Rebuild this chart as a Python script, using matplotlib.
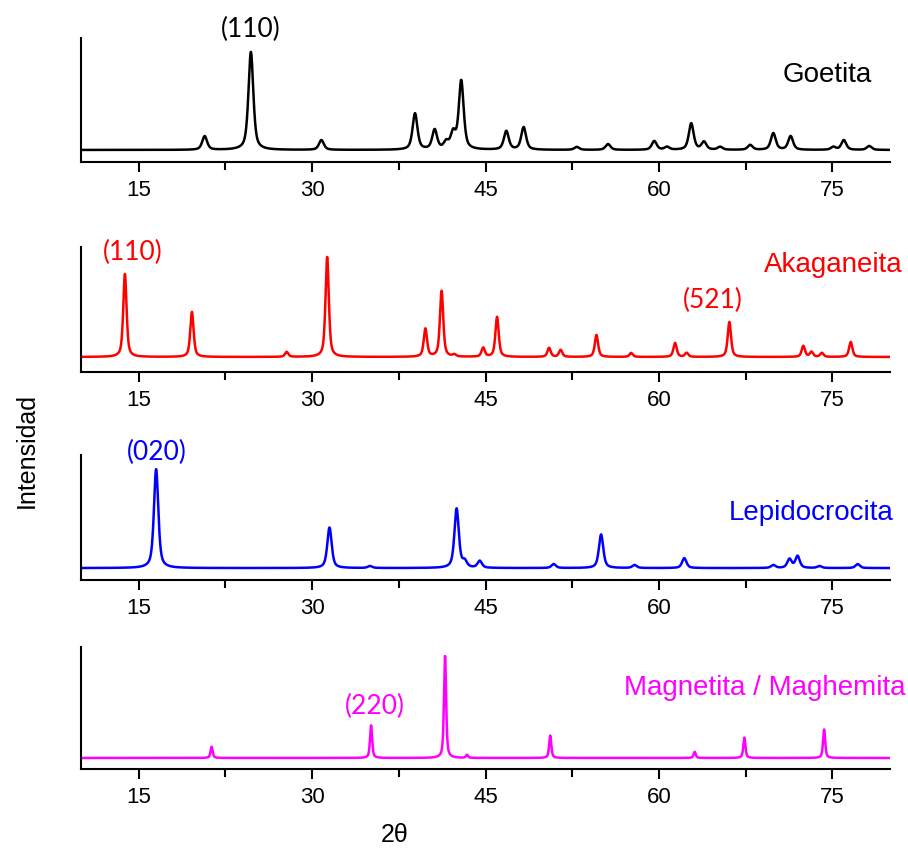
import numpy as np
import matplotlib
matplotlib.use('Agg')
import matplotlib.pyplot as plt
from matplotlib import ticker

plt.rcParams['font.family'] = ['Liberation Sans', 'DejaVu Sans']

# peak positions (2theta) and relative heights
goe_pos = [20.7, 24.7, 30.8, 38.9, 40.6, 41.6, 42.2, 42.9, 46.8, 48.3, 52.9, 55.6,
           59.6, 60.7, 62.8, 63.9, 65.3, 67.9, 69.9, 71.4, 75.1, 76.0, 78.2]
goe_int = [14, 100, 10, 37, 20, 7, 16, 70, 19, 23, 3, 6,
           9, 3, 27, 8, 3, 5, 17, 14, 3, 10, 4]

aka_pos = [13.8, 19.6, 27.8, 31.3, 39.8, 41.2, 42.3, 44.8, 46.0, 50.5, 51.5, 54.6,
           57.6, 61.4, 62.4, 66.1, 72.5, 73.2, 74.1, 76.6]
aka_int = [83, 45, 5, 100, 28, 66, 2, 9, 40, 9, 7, 22,
           4, 14, 4, 35, 11, 5, 4, 15]

lep_pos = [16.5, 31.5, 35.0, 42.5, 43.2, 44.5, 50.9, 55.0, 57.9, 62.2, 69.9, 71.3,
           72.0, 73.9, 77.2]
lep_int = [100, 41, 2, 60, 6, 7, 4, 34, 3, 10, 3, 9, 12, 2, 4]

mag_pos = [21.3, 35.1, 41.5, 43.4, 50.6, 63.1, 67.4, 74.3]
mag_int = [11, 32, 100, 3, 22, 6, 20, 28]

names = ['Goetita', 'Akaganeita', 'Lepidocrocita', 'Magnetita / Maghemita']
colors = ['black', '#ff0000', '#0000ff', '#ff00ff']
fwhm = [0.5, 0.34, 0.45, 0.22]
xticks = [15, 30, 45, 60, 75]


def profile(tt, pos, inten, w):
    y = np.zeros_like(tt)
    for p, h in zip(pos, inten):
        d = (tt - p) / (w / 2.)
        y += h * (0.6 / (1 + d ** 2) + 0.4 * np.exp(-np.log(2) * d ** 2))
    return y


tt = np.arange(10, 80.01, 0.01)
series = [(goe_pos, goe_int), (aka_pos, aka_int), (lep_pos, lep_int), (mag_pos, mag_int)]

fig = plt.figure(figsize=(9.08, 8.5), dpi=100)
boxes = [(0.8094, 0.1459), (0.5624, 0.147), (0.3176, 0.147), (0.0953, 0.1435)]
ylims = [(-12.3, 114.3), (-15, 110), (-12.1, 114.2), (-10.8, 108.8)]

axes = []
for i, (pos, inten) in enumerate(series):
    ax = fig.add_axes([0.0892, boxes[i][0], 0.891, boxes[i][1]])
    ax.plot(tt, profile(tt, pos, inten, fwhm[i]), color=colors[i], lw=1.8)
    ax.set_xlim(10, 80)
    ax.set_ylim(*ylims[i])
    ax.spines['top'].set_visible(False)
    ax.spines['right'].set_visible(False)
    ax.spines['left'].set_linewidth(1.5)
    ax.spines['bottom'].set_linewidth(1.5)
    ax.set_yticks([])
    ax.xaxis.set_major_locator(ticker.FixedLocator(xticks))
    ax.xaxis.set_minor_locator(ticker.FixedLocator([22.5, 37.5, 52.5, 67.5]))
    ax.tick_params(axis='x', which='major', length=7, width=1.5, pad=6, labelsize=16)
    ax.tick_params(axis='x', which='minor', length=6, width=1.5)
    axes.append(ax)

# labels for each pattern
hkl_font = ['Lato', 'DejaVu Sans']
tr = axes[0].get_xaxis_transform()
axes[0].text(24.7, 1.065, '(110)', transform=tr, ha='center', va='center',
             fontsize=19, family=hkl_font, color=colors[0])
axes[0].text(0.978, 0.70, names[0], transform=axes[0].transAxes, ha='right',
             va='center', fontsize=20, color=colors[0])

tr = axes[1].get_xaxis_transform()
axes[1].text(14.5, 0.96, '(110)', transform=tr, ha='center', va='center',
             fontsize=19, family=hkl_font, color=colors[1])
axes[1].text(64.7, 0.576, '(521)', transform=tr, ha='center', va='center',
             fontsize=19, family=hkl_font, color=colors[1])
axes[1].text(1.016, 0.856, names[1], transform=axes[1].transAxes, ha='right',
             va='center', fontsize=20, color=colors[1])

tr = axes[2].get_xaxis_transform()
axes[2].text(16.6, 1.024, '(020)', transform=tr, ha='center', va='center',
             fontsize=19, family=hkl_font, color=colors[2])
axes[2].text(1.004, 0.536, names[2], transform=axes[2].transAxes, ha='right',
             va='center', fontsize=20, color=colors[2])

tr = axes[3].get_xaxis_transform()
axes[3].text(35.4, 0.516, '(220)', transform=tr, ha='center', va='center',
             fontsize=19, family=hkl_font, color=colors[3])
axes[3].text(1.019, 0.664, names[3], transform=axes[3].transAxes, ha='right',
             va='center', fontsize=20, color=colors[3])

fig.text(0.030, 0.47, 'Intensidad', rotation=90, ha='center', va='center', fontsize=18)
fig.text(0.435, 0.018, '2\u03b8', ha='center', va='center', fontsize=18)

fig.savefig('out.png', dpi=100)
